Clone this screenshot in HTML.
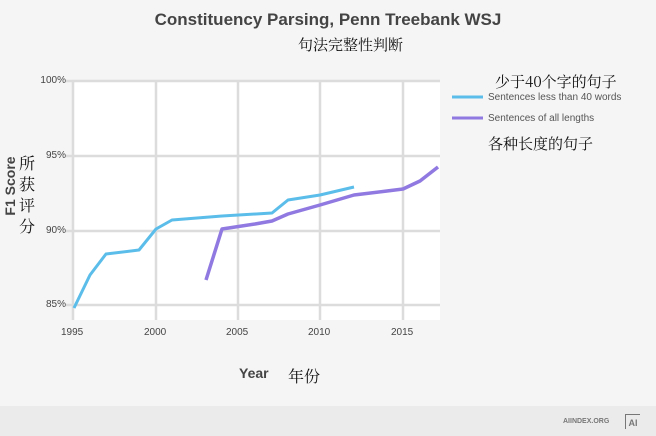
<!DOCTYPE html>
<html><head><meta charset="utf-8"><style>
body{margin:0;width:656px;height:436px;background:#f5f5f5;overflow:hidden;font-family:"Liberation Sans","Noto Sans CJK SC",sans-serif;position:relative}
.t{position:absolute;white-space:nowrap}
.cn{font-family:"Noto Serif CJK SC","Noto Sans CJK SC",serif;color:#111}
</style></head><body>
<div style="position:absolute;left:0;top:406px;width:656px;height:30px;background:#ebebeb"></div>
<div class="t" style="left:0;width:656px;text-align:center;top:10px;font-size:17px;font-weight:bold;color:#444">Constituency Parsing, Penn Treebank WSJ</div>
<div class="t cn" style="left:298px;top:34px;font-size:15px">句法完整性判断</div>
<svg style="position:absolute;left:0;top:0" width="656" height="436">
<rect x="73" y="81" width="367" height="239" fill="#fff"/>
<g stroke="#dcdcdc" stroke-width="2.5" fill="none">
<line x1="73" y1="81" x2="440" y2="81"/><line x1="73" y1="156" x2="440" y2="156"/>
<line x1="73" y1="231" x2="440" y2="231"/><line x1="73" y1="305" x2="440" y2="305"/>
<line x1="73" y1="81" x2="73" y2="320"/><line x1="156" y1="81" x2="156" y2="320"/>
<line x1="238" y1="81" x2="238" y2="320"/><line x1="320" y1="81" x2="320" y2="320"/>
<line x1="403" y1="81" x2="403" y2="320"/>
<line x1="66" y1="81" x2="73" y2="81"/><line x1="66" y1="156" x2="73" y2="156"/><line x1="66" y1="231" x2="73" y2="231"/><line x1="66" y1="305" x2="73" y2="305"/>
</g>
<polyline fill="none" stroke="#5bbde9" stroke-width="3" stroke-linejoin="round" points="74,308 90,275 106,254 139,250 156,229 172,220 222,216 272,213 288,200 320,195 354,187"/>
<polyline fill="none" stroke="#9079e0" stroke-width="3.5" stroke-linejoin="round" points="206,280 222,229 255,224 272,221 288,214 320,205 354,195 387,191 403,189 420,181 438,167"/>
<line x1="452" y1="97" x2="483" y2="97" stroke="#5bbde9" stroke-width="3"/>
<line x1="452" y1="118" x2="483" y2="118" stroke="#9079e0" stroke-width="3"/>
</svg>
<div class="t" style="right:590px;top:75px;font-size:10px;color:#444">100%</div>
<div class="t" style="right:590px;top:150px;font-size:10px;color:#444">95%</div>
<div class="t" style="right:590px;top:225px;font-size:10px;color:#444">90%</div>
<div class="t" style="right:590px;top:299px;font-size:10px;color:#444">85%</div>
<div class="t" style="left:61px;top:327px;font-size:10px;color:#444">1995</div>
<div class="t" style="left:144px;top:327px;font-size:10px;color:#444">2000</div>
<div class="t" style="left:226px;top:327px;font-size:10px;color:#444">2005</div>
<div class="t" style="left:308px;top:327px;font-size:10px;color:#444">2010</div>
<div class="t" style="left:391px;top:327px;font-size:10px;color:#444">2015</div>
<div class="t" style="left:-20px;top:178px;width:60px;text-align:center;font-size:14px;font-weight:bold;color:#444;transform:rotate(-90deg)">F1 Score</div>
<div class="t cn" style="left:19px;top:152px;font-size:16px;line-height:21px;white-space:normal;width:18px">所获评分</div>
<div class="t" style="left:239px;top:365px;font-size:14px;font-weight:bold;color:#444">Year</div>
<div class="t cn" style="left:288px;top:364px;font-size:16px">年份</div>
<div class="t cn" style="left:495px;top:71px;font-size:15px">少于40个字的句子</div>
<div class="t" style="left:488px;top:92px;font-size:10px;color:#555">Sentences less than 40 words</div>
<div class="t" style="left:488px;top:113px;font-size:10px;color:#555">Sentences of all lengths</div>
<div class="t cn" style="left:488px;top:133px;font-size:15px">各种长度的句子</div>
<div class="t" style="left:563px;top:418px;font-size:7px;font-weight:bold;color:#777">AIINDEX.ORG</div>
<div class="t" style="left:625px;top:414px;width:14px;height:14px;border:1.5px solid #777;border-right:none;border-bottom:none;font-size:9px;font-weight:bold;color:#777;line-height:16px;text-align:center">AI</div>
</body></html>
